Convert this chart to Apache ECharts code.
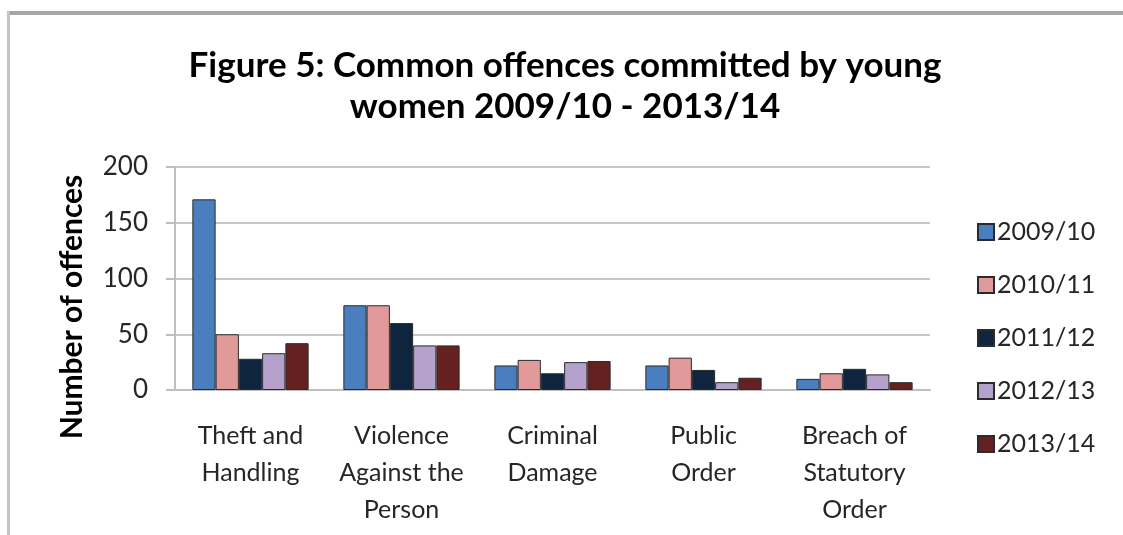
<!DOCTYPE html>
<html><head><meta charset="utf-8">
<script src="https://cdn.jsdelivr.net/npm/echarts@6/dist/echarts.min.js"></script>
<style>html,body{margin:0;padding:0;background:#fff}#c{width:1123px;height:535px}</style>
</head><body><div id="c"></div>
<script>
var categories = ['Theft and\nHandling', 'Violence\nAgainst the\nPerson', 'Criminal\nDamage', 'Public\nOrder', 'Breach of\nStatutory\nOrder'];
var seriesNames = ['2009/10', '2010/11', '2011/12', '2012/13', '2013/14'];
var v2009 = [171, 76, 22, 22, 10];
var v2010 = [50, 76, 27, 29, 15];
var v2011 = [28, 60, 15, 18, 19];
var v2012 = [33, 40, 25, 7, 14];
var v2013 = [42, 40, 26, 11, 7];
var yTicks = [0, 50, 100, 150, 200];
var colors = ['#4A7EBF', '#E2999A', '#0F253F', '#B4A2CC', '#652022'];
var values = [v2009, v2010, v2011, v2012, v2013];
var font = 'Lato, "Open Sans", sans-serif';
var chart = echarts.init(document.getElementById('c'));
chart.setOption({
  animation: false,
  title: {
    text: 'Figure 5: Common offences committed by young\nwomen 2009/10 - 2013/14',
    left: 560, top: 40, textAlign: 'center',
    textStyle: {fontFamily: font, fontWeight: 'bold', fontSize: 35, lineHeight: 41, color: '#000'}
  },
  legend: {
    orient: 'vertical', left: 972, top: 212,
    itemWidth: 16, itemHeight: 16, itemGap: 23,
    icon: 'rect',
    data: seriesNames,
    textStyle: {fontFamily: font, fontSize: 25, lineHeight: 30, color: '#262626', padding: [0, 0, 0, -2]}
  },
  grid: {left: 175, right: 193, top: 167, bottom: 145},
  xAxis: {
    type: 'category', data: categories,
    axisLine: {lineStyle: {color: '#BFBFBF', width: 2}},
    axisTick: {show: false},
    axisLabel: {interval: 0, fontFamily: font, fontSize: 25, lineHeight: 37, color: '#262626', margin: 27}
  },
  yAxis: {
    type: 'value', min: 0, max: 200, interval: 50,
    axisLine: {show: true, lineStyle: {color: '#BFBFBF', width: 2}},
    axisTick: {show: true, length: 9, lineStyle: {color: '#BFBFBF', width: 2}},
    splitLine: {lineStyle: {color: '#C8C8C8', width: 2}},
    axisLabel: {fontFamily: font, fontSize: 26, color: '#262626', margin: 27,
      formatter: function (v) { return yTicks.indexOf(v) >= 0 ? String(v) : ''; }}
  },
  graphic: [
    {type: 'rect', shape: {x: 7, y: 11, width: 1116, height: 4}, style: {fill: '#A6A6A6'}, silent: true},
    {type: 'rect', shape: {x: 7, y: 11, width: 3, height: 524}, style: {fill: '#C4C4C4'}, silent: true},
    {type: 'text', x: 72, y: 307, rotation: Math.PI / 2, silent: true,
      style: {text: 'Number of offences', font: 'bold 30px Lato, "Open Sans", sans-serif', fill: '#000',
        textAlign: 'center', textVerticalAlign: 'middle'}}
  ],
  series: seriesNames.map(function (n, i) {
    return {
      name: n, type: 'bar', data: values[i], barGap: '0%', barCategoryGap: '23%',
      itemStyle: {color: colors[i], borderColor: '#2b2b2b', borderWidth: 1}
    };
  })
});
</script></body></html>
